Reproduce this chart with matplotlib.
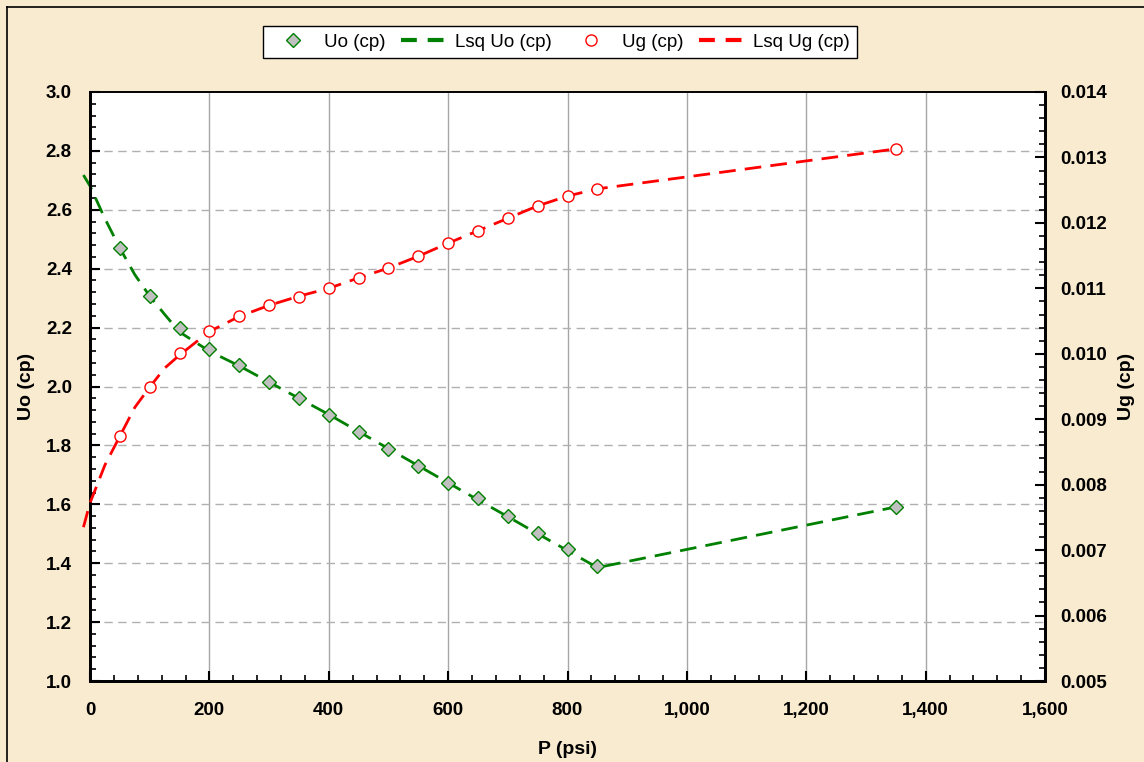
import matplotlib
matplotlib.use("Agg")
import matplotlib.pyplot as plt
from matplotlib.ticker import MultipleLocator, FuncFormatter
from matplotlib.lines import Line2D

plt.rcParams['font.family'] = ['Liberation Sans', 'DejaVu Sans']

# ---- data ----
p = [50, 100, 150, 200, 250, 300, 350, 400, 450, 500, 550, 600, 650, 700, 750, 800, 850, 1350]
uo = [2.470, 2.307, 2.199, 2.127, 2.073, 2.015, 1.961, 1.903, 1.845, 1.788, 1.730, 1.672,
      1.621, 1.560, 1.503, 1.448, 1.391, 1.591]
ug = [0.008744, 0.009492, 0.010012, 0.010348, 0.010577, 0.010745, 0.010868, 0.011005,
      0.011158, 0.011311, 0.011494, 0.011693, 0.011876, 0.012075, 0.012258, 0.012411,
      0.012518, 0.013129]

p_lsq = [-11, 0, 25, 50, 75, 100, 125, 150, 200, 250, 300, 350, 400, 450, 500, 550, 600,
         650, 700, 750, 800, 850, 1350]
uo_lsq = [2.718, 2.681, 2.57, 2.47, 2.38, 2.307, 2.245, 2.185, 2.12, 2.07, 2.015, 1.96,
          1.905, 1.847, 1.789, 1.731, 1.673, 1.615, 1.558, 1.500, 1.443, 1.385, 1.591]
ug_lsq = [0.00735, 0.00772, 0.0083, 0.00874, 0.00918, 0.00949, 0.00978, 0.00998, 0.01034,
          0.01057, 0.01074, 0.01088, 0.01100, 0.01116, 0.01131, 0.01149, 0.01169, 0.01188,
          0.01207, 0.01226, 0.01241, 0.01252, 0.01313]

x_ticks = [0, 200, 400, 600, 800, 1000, 1200, 1400, 1600]

bg = '#F9EBCF'
green = '#008000'
red = '#FF0000'

fig = plt.figure(figsize=(11.44, 7.62), dpi=100, facecolor=bg)
# figure border (top and left visible)
fig.add_artist(Line2D([7/1144, 7/1144], [0, 1 - 7/762], transform=fig.transFigure,
                      color='black', lw=1.2))
fig.add_artist(Line2D([7/1144, 1], [1 - 7/762, 1 - 7/762], transform=fig.transFigure,
                      color='black', lw=1.2))

ax = fig.add_axes([90/1144, 1 - 681/762, (1045 - 90)/1144, (681 - 92)/762])
ax.set_facecolor('white')
ax2 = ax.twinx()

ax.set_xlim(0, 1600)
ax.set_ylim(1.0, 3.0)
ax2.set_ylim(0.005, 0.014)

ax.set_xticks(x_ticks)
ax.xaxis.set_minor_locator(MultipleLocator(40))
ax.yaxis.set_major_locator(MultipleLocator(0.2))
ax.yaxis.set_minor_locator(MultipleLocator(0.04))
ax2.yaxis.set_major_locator(MultipleLocator(0.001))
ax2.yaxis.set_minor_locator(MultipleLocator(0.0002))

ax.xaxis.set_major_formatter(FuncFormatter(lambda v, _: f"{v:,.0f}"))
ax.yaxis.set_major_formatter(FuncFormatter(lambda v, _: f"{v:.1f}"))
ax2.yaxis.set_major_formatter(FuncFormatter(lambda v, _: f"{v:.3f}"))

# grid
for xv in x_ticks[1:-1]:
    ax.axvline(xv, color='#A6A6A6', lw=1.0, zorder=0)
for yv in [1.2, 1.4, 1.6, 1.8, 2.0, 2.2, 2.4, 2.6, 2.8]:
    ax.axhline(yv, color='#B0B0B0', lw=1.0, dashes=(6, 4), zorder=0)

ax.tick_params(axis='x', which='major', direction='in', length=7, width=1.5, pad=15,
               labelsize=13.5, top=False)
ax.tick_params(axis='x', which='minor', direction='in', length=4, width=1.2, top=False)
ax.tick_params(axis='y', which='major', direction='in', length=7, width=1.5, pad=13,
               labelsize=13.5)
ax.tick_params(axis='y', which='minor', direction='in', length=4, width=1.2)
ax2.tick_params(axis='y', which='major', direction='in', length=7, width=1.5, pad=11,
                labelsize=13.5)
ax2.tick_params(axis='y', which='minor', direction='in', length=4, width=1.2)
for a in (ax, ax2):
    for lab in a.get_xticklabels() + a.get_yticklabels():
        lab.set_fontweight('bold')
    for s in a.spines.values():
        s.set_color('black')
        s.set_linewidth(2)
ax.spines['top'].set_linewidth(1.2)
ax2.spines['top'].set_linewidth(1.2)

ax.set_xlabel('P (psi)', fontsize=14, fontweight='bold', labelpad=16)
ax.set_ylabel('Uo (cp)', fontsize=14, fontweight='bold', labelpad=8)
ax2.set_ylabel('Ug (cp)', fontsize=14, fontweight='bold', labelpad=8, rotation=90)

dash = (6, 3.3)
ax.plot(p_lsq, uo_lsq, color=green, lw=2.0, dashes=dash, zorder=3, clip_on=False)
ax.plot(p, uo, linestyle='none', marker='D', markersize=7.5, markerfacecolor='#C0C0C0',
        markeredgecolor=green, markeredgewidth=1.0, zorder=4)
ax2.plot(p_lsq, ug_lsq, color=red, lw=2.0, dashes=dash, zorder=3, clip_on=False)
ax2.plot(p, ug, linestyle='none', marker='o', markersize=8, markerfacecolor='white',
         markeredgecolor=red, markeredgewidth=1.0, zorder=4)

handles = [
    Line2D([], [], linestyle='none', marker='D', markersize=7, markerfacecolor='#C0C0C0',
           markeredgecolor=green),
    Line2D([], [], color=green, lw=3, dashes=(3.8, 2.6)),
    Line2D([], [], linestyle='none', marker='o', markersize=8, markerfacecolor='white',
           markeredgecolor=red),
    Line2D([], [], color=red, lw=3, dashes=(3.8, 2.6)),
]
labels = ['Uo (cp)', 'Lsq Uo (cp)', 'Ug (cp)', 'Lsq Ug (cp)']
leg = fig.legend(handles, labels, loc='center', bbox_to_anchor=(560/1144, 1 - 42/762), ncol=4,
                 fontsize=13.5, frameon=True, fancybox=False, edgecolor='black',
                 facecolor='white', framealpha=1, handlelength=2.45, columnspacing=0.83,
                 borderpad=0.4, handletextpad=0.43, borderaxespad=0)
leg.get_frame().set_linewidth(1.0)

fig.savefig('out.png', dpi=100, facecolor=bg)
